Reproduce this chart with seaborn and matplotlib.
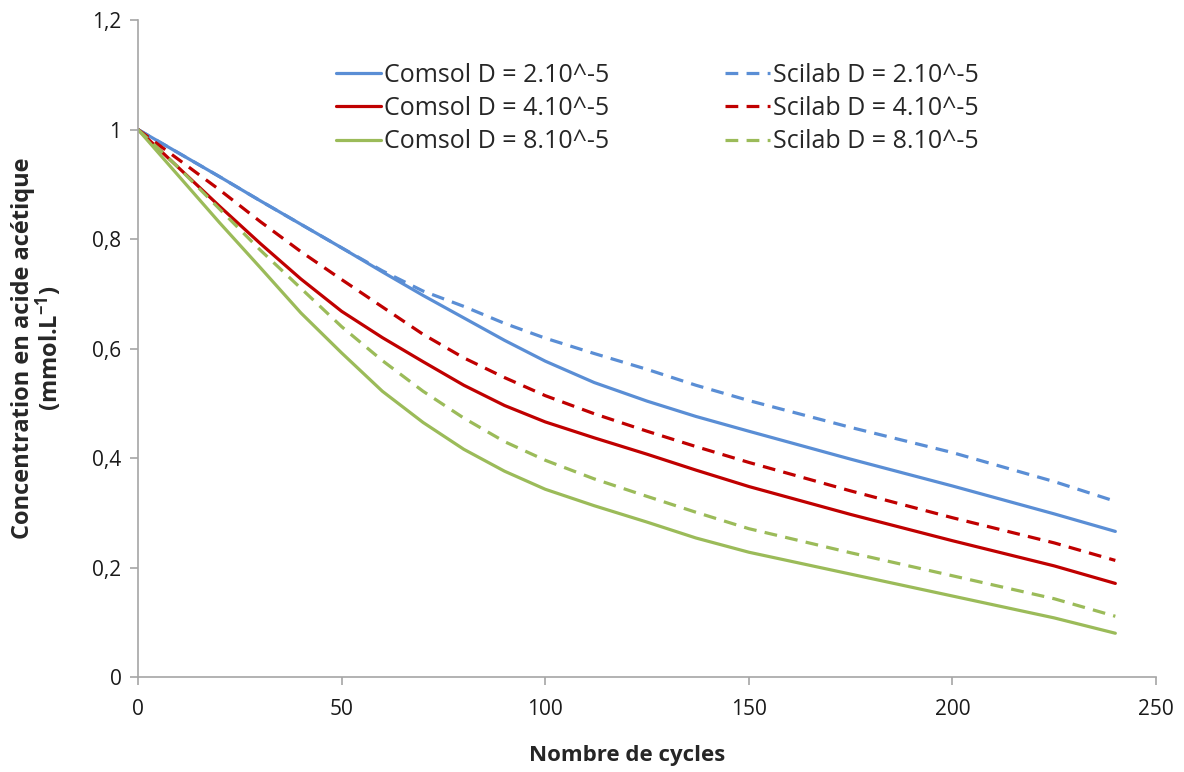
import numpy as np
import pandas as pd
import seaborn as sns
from matplotlib import pyplot as plt
from matplotlib.ticker import FuncFormatter

# values
cycles = [0, 10, 20, 30, 40, 50, 60, 70, 80, 90, 100, 112, 125, 137, 150, 175, 200, 225, 240]

comsol_2 = [1.0, 0.957, 0.914, 0.870, 0.827, 0.784, 0.740, 0.697, 0.656, 0.615, 0.577, 0.538, 0.504, 0.476, 0.449, 0.398, 0.349, 0.298, 0.266]
comsol_4 = [1.0, 0.930, 0.860, 0.792, 0.727, 0.668, 0.620, 0.576, 0.533, 0.496, 0.466, 0.437, 0.407, 0.378, 0.348, 0.297, 0.249, 0.203, 0.171]
comsol_8 = [1.0, 0.915, 0.830, 0.748, 0.665, 0.592, 0.522, 0.465, 0.416, 0.376, 0.343, 0.313, 0.283, 0.254, 0.228, 0.188, 0.148, 0.108, 0.080]

scilab_2 = [1.0, 0.957, 0.914, 0.870, 0.827, 0.784, 0.742, 0.705, 0.677, 0.646, 0.619, 0.591, 0.562, 0.533, 0.505, 0.456, 0.410, 0.357, 0.321]
scilab_4 = [1.0, 0.945, 0.890, 0.832, 0.777, 0.726, 0.676, 0.626, 0.583, 0.547, 0.514, 0.481, 0.449, 0.421, 0.392, 0.340, 0.291, 0.245, 0.213]
scilab_8 = [1.0, 0.930, 0.855, 0.780, 0.710, 0.640, 0.578, 0.522, 0.473, 0.430, 0.396, 0.362, 0.330, 0.301, 0.271, 0.227, 0.185, 0.143, 0.111]

labels_comsol = ['Comsol D = 2.10^-5', 'Comsol D = 4.10^-5', 'Comsol D = 8.10^-5']
labels_scilab = ['Scilab D = 2.10^-5', 'Scilab D = 4.10^-5', 'Scilab D = 8.10^-5']
colors = ['#5A8ED5', '#C00000', '#9BBB59']

sns.set_theme(style='white')
plt.rcParams['font.family'] = ['Open Sans', 'DejaVu Sans']
plt.rcParams['mathtext.default'] = 'regular'

fig = plt.figure(figsize=(11.84, 7.72), dpi=100)
ax = fig.add_axes([0.1166, 0.123, 0.8598, 0.851])

for vals, lab, c in zip([comsol_2, comsol_4, comsol_8], labels_comsol, colors):
    sns.lineplot(x=cycles, y=vals, color=c, lw=2.3, label=lab, ax=ax)
for vals, lab, c in zip([scilab_2, scilab_4, scilab_8], labels_scilab, colors):
    sns.lineplot(x=cycles, y=vals, color=c, lw=2.3, label=lab, ax=ax)
# dashed style for scilab curves
for line in ax.get_lines()[3:]:
    line.set_dashes((4, 2.6))

ax.set_xlim(0, 250)
ax.set_ylim(0, 1.2)
ax.set_xticks(np.arange(0, 251, 50))
ax.set_yticks(np.arange(0, 1.21, 0.2))
ax.yaxis.set_major_formatter(FuncFormatter(lambda v, p: ('%g' % round(v, 1)).replace('.', ',')))

for side in ['top', 'right']:
    ax.spines[side].set_visible(False)
for side in ['left', 'bottom']:
    ax.spines[side].set_color('#A6A6A6')
    ax.spines[side].set_linewidth(1.2)
ax.tick_params(axis='both', which='major', direction='out', length=6, width=1.2,
               color='#A6A6A6', labelsize=15, labelcolor='#1a1a1a', pad=6)
ax.tick_params(axis='x', pad=10)
ax.tick_params(left=True, bottom=True)

ax.set_xlabel('Nombre de cycles', fontsize=16, fontweight='bold', labelpad=18, x=0.48)
ax.set_ylabel('Concentration en acide acétique\n(mmol.L$^{-1}$)', fontsize=17,
              fontweight='bold', labelpad=20, linespacing=0.95)

ax.legend(ncol=2, frameon=False, fontsize=18, loc='upper left',
          bbox_to_anchor=(0.172, 0.969), handlelength=1.8, handletextpad=0.15,
          columnspacing=4.6, labelspacing=0.33)

plt.savefig('out.png', dpi=100)
